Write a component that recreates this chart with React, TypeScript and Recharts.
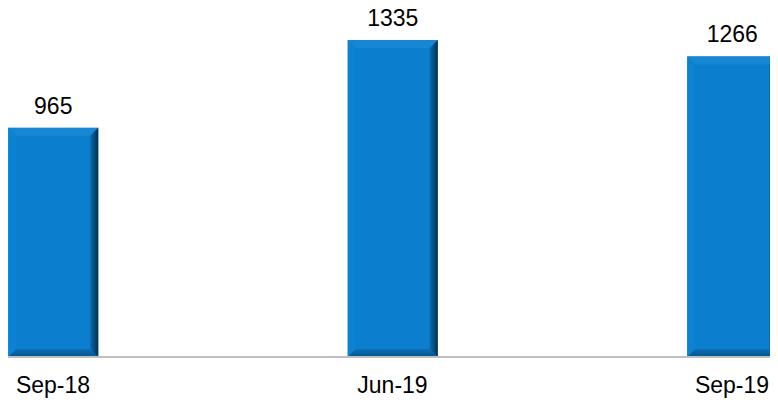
import React from "react";
import { BarChart, Bar, XAxis, YAxis, LabelList } from "recharts";

const categories = ["Sep-18", "Jun-19", "Sep-19"];
const values = [965, 1335, 1266];

const data = categories.map((c, i) => ({ idx: i, name: c, value: values[i] }));

const BevelBar = (props: any) => {
  const { x, y, width, height } = props;
  if (!height || height <= 0) return null;
  const b = 8;
  const x2 = x + width;
  const y2 = y + height;
  return (
    <g>
      <defs>
        <linearGradient id="bvRight" x1="0" y1="0" x2="1" y2="0">
          <stop offset="0%" stopColor="#0a6aae" />
          <stop offset="100%" stopColor="#04304f" />
        </linearGradient>
        <linearGradient id="bvBottom" x1="0" y1="0" x2="0" y2="1">
          <stop offset="0%" stopColor="#0a6fb8" />
          <stop offset="100%" stopColor="#07548c" />
        </linearGradient>
      </defs>
      <rect x={x} y={y} width={width} height={height} fill="#0b7ecd" />
      <polygon points={`${x},${y} ${x2},${y} ${x2 - b},${y + b} ${x + b},${y + b}`} fill="#1787d3" />
      <polygon points={`${x},${y} ${x + b},${y + b} ${x + b},${y2 - b} ${x},${y2}`} fill="#0c82d2" />
      <polygon points={`${x2},${y} ${x2},${y2} ${x2 - b},${y2 - b} ${x2 - b},${y + b}`} fill="url(#bvRight)" />
      <polygon points={`${x},${y2} ${x + b},${y2 - b} ${x2 - b},${y2 - b} ${x2},${y2}`} fill="url(#bvBottom)" />
    </g>
  );
};

export default function App() {
  return (
    <div style={{ marginLeft: -8, marginTop: -8, width: 778, height: 403 }}>
      <BarChart
        width={778}
        height={403}
        data={data}
        margin={{ top: 40, right: 0, bottom: 0, left: 0 }}
      >
        <XAxis
          dataKey="idx"
          type="number"
          domain={[-0.1561, 2.1355]}
          ticks={[0, 1, 2]}
          tickFormatter={(v: number) => categories[v]}
          height={46}
          tickLine={false}
          tickSize={0}
          tickMargin={20}
          axisLine={{ stroke: "#bfbfbf", strokeWidth: 2 }}
          tick={{ fill: "#000000", fontSize: 23, fontFamily: "Liberation Sans, Arial, sans-serif" }}
          interval={0}
        />
        <YAxis hide domain={[0, 1335]} />
        <Bar dataKey="value" barSize={90} shape={<BevelBar />} isAnimationActive={false}>
          <LabelList
            dataKey="value"
            position="top"
            offset={14}
            fill="#000000"
            fontSize={23}
            fontFamily="Liberation Sans, Arial, sans-serif"
          />
        </Bar>
      </BarChart>
    </div>
  );
}
